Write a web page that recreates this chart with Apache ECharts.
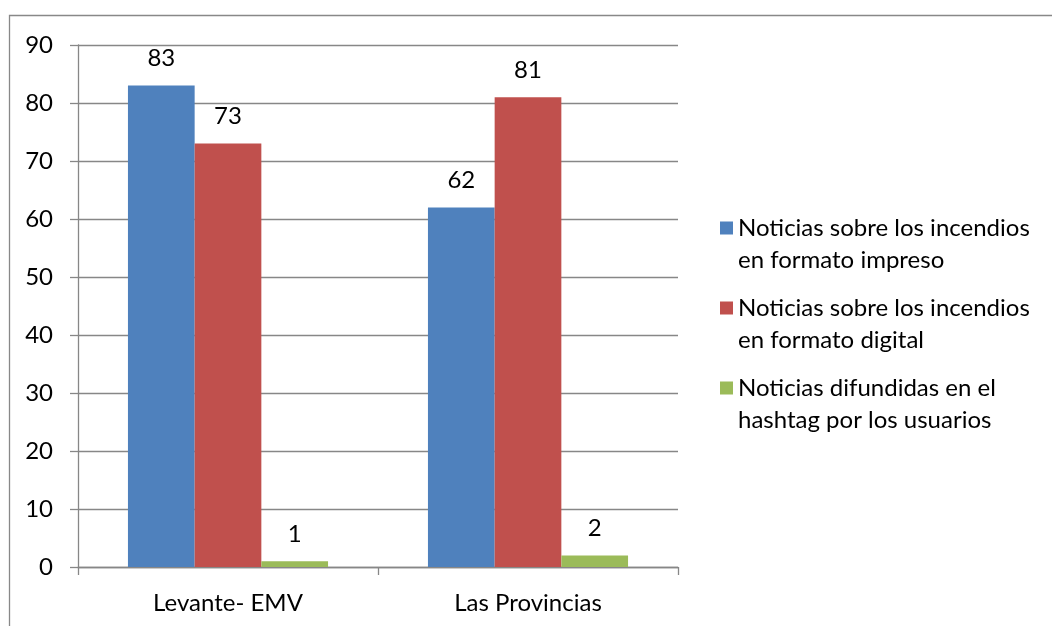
<!DOCTYPE html>
<html>
<head>
<meta charset="utf-8">
<script src="https://cdn.jsdelivr.net/npm/echarts@6/dist/echarts.min.js"></script>
<style>
html,body{margin:0;padding:0;background:#fff;}
#chart{width:1052px;height:626px;}
</style>
</head>
<body>
<div id="chart"></div>
<script>
const categories = ['Levante- EMV', 'Las Provincias'];
const seriesNames = [
  'Noticias sobre los incendios\nen formato impreso',
  'Noticias sobre los incendios\nen formato digital',
  'Noticias difundidas en el\nhashtag por los usuarios'
];
const impreso = [83, 62];
const digital = [73, 81];
const hashtag = [1, 2];
const colors = ['#4F81BD', '#C0504D', '#9BBB59'];
const yTicks = { min: 0, max: 90, interval: 10 };

const FONT = 'Lato, "Open Sans", sans-serif';
const FS = 24;
const chart = echarts.init(document.getElementById('chart'));
const mk = (name, data, color) => ({
  name: name,
  type: 'bar',
  data: data,
  barGap: '0%',
  barCategoryGap: '33.3%',
  itemStyle: { color: color },
  label: {
    show: true,
    position: 'top',
    distance: 15,
    color: '#000',
    fontFamily: FONT,
    fontSize: FS
  }
});
chart.setOption({
  backgroundColor: '#fff',
  animation: false,
  grid: { left: 78, right: 374, top: 45, bottom: 59 },
  graphic: [{
    type: 'rect',
    shape: { x: 9.5, y: 15.5, width: 1200, height: 800 },
    style: { fill: 'none', stroke: '#888', lineWidth: 1.3 },
    silent: true
  }],
  legend: {
    orient: 'vertical',
    left: 715,
    top: 175,
    itemWidth: 13,
    itemHeight: 13,
    itemGap: -16,
    icon: 'rect',
    formatter: function (name) { return ' \n' + name; },
    textStyle: {
      fontFamily: FONT,
      fontSize: FS,
      color: '#000',
      lineHeight: 32
    },
    data: seriesNames
  },
  xAxis: {
    type: 'category',
    data: categories,
    axisLine: { lineStyle: { color: '#878787', width: 1.3 } },
    axisTick: { show: true, length: 8, lineStyle: { color: '#878787', width: 1.3 } },
    axisLabel: { color: '#000', fontFamily: FONT, fontSize: FS, margin: 24 }
  },
  yAxis: {
    type: 'value',
    min: yTicks.min,
    max: yTicks.max,
    interval: yTicks.interval,
    axisLine: { show: true, lineStyle: { color: '#878787', width: 1.3 } },
    axisTick: { show: true, length: 8, lineStyle: { color: '#878787', width: 1.3 } },
    splitLine: { lineStyle: { color: '#878787', width: 1.3 } },
    axisLabel: { color: '#000', fontFamily: FONT, fontSize: FS, margin: 25 }
  },
  series: [
    mk(seriesNames[0], impreso, colors[0]),
    mk(seriesNames[1], digital, colors[1]),
    mk(seriesNames[2], hashtag, colors[2])
  ]
});
</script>
</body>
</html>
